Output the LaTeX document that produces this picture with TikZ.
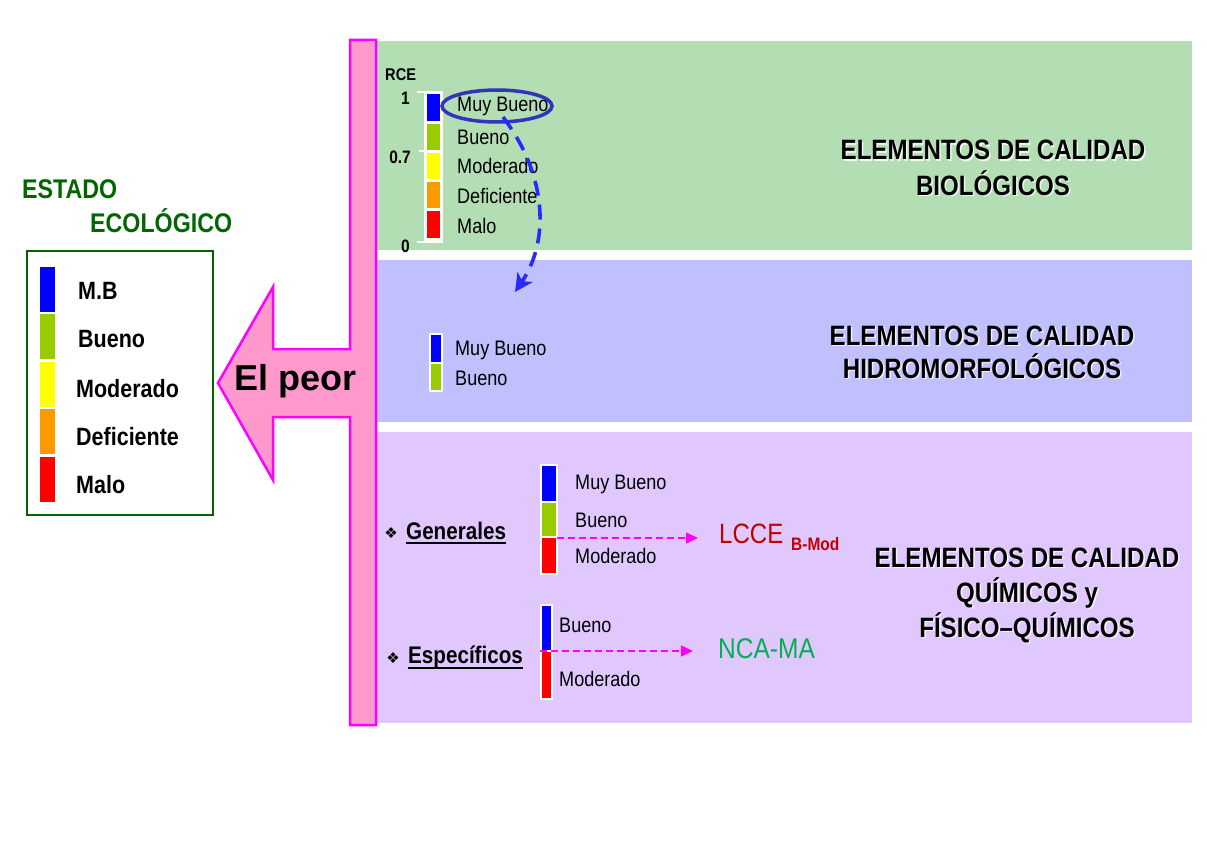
\documentclass[tikz,border=0pt]{standalone}
\usepackage{fontspec}
\setmainfont[FakeStretch=0.86]{Liberation Sans}
\newfontfamily\peorfont{Liberation Sans}
\newfontfamily\symfont{DejaVu Sans}
\usetikzlibrary{shapes.geometric,arrows.meta}
\definecolor{pgreen}{RGB}{179,222,180}
\definecolor{pblue}{RGB}{192,192,255}
\definecolor{plilac}{RGB}{224,200,255}
\definecolor{barpink}{RGB}{255,153,204}
\definecolor{magen}{RGB}{255,0,255}
\definecolor{dgreen}{RGB}{0,102,0}
\definecolor{cblue}{RGB}{0,0,255}
\definecolor{cgreen}{RGB}{153,204,0}
\definecolor{cyellow}{RGB}{255,255,0}
\definecolor{corange}{RGB}{255,153,0}
\definecolor{cred}{RGB}{255,0,0}
\definecolor{lccered}{RGB}{192,0,0}
\definecolor{ncagreen}{RGB}{0,176,80}
\definecolor{ellblue}{RGB}{51,51,190}
\definecolor{arrblue}{RGB}{40,40,255}
\tikzset{
  lbl/.style={anchor=base west, inner sep=0pt, font=\fontsize{21}{25}\selectfont},
  blbl/.style={anchor=base west, inner sep=0pt, font=\bfseries\fontsize{25}{30}\selectfont},
  num/.style={anchor=base east, inner sep=0pt, font=\bfseries\fontsize{18}{21}\selectfont},
  head/.style={anchor=base, inner sep=0pt, font=\bfseries\fontsize{28}{34}\selectfont},
  headshadow/.style={head, text=white, opacity=0.8},
  sub/.style={anchor=base west, inner sep=0pt, font=\bfseries\fontsize{24}{29}\selectfont},
  bullet/.style={inner sep=0pt, font=\symfont\fontsize{15}{17}\selectfont},
  magarrow/.style={draw=magen, line width=1.6pt, dash pattern=on 7pt off 4pt, -{Triangle[length=12pt,width=11pt]}},
}
\begin{document}
\begin{tikzpicture}[x=1pt,y=-1pt]
\useasboundingbox (0,0) rectangle (1207,856);
\fill[white] (0,0) rectangle (1207,856);
% panels
\fill[pgreen] (377,41) rectangle (1192,250);
\fill[pblue] (377,260) rectangle (1192,422);
\fill[plilac] (377,432) rectangle (1192,723);
% bar + arrow
\filldraw[fill=barpink, draw=magen, line width=2.5pt, line join=miter]
  (350,40) -- (376,40) -- (376,725) -- (350,725) -- (350,417) -- (273,417) -- (273,480)
  -- (218,383) -- (273,287) -- (273,349) -- (350,349) -- cycle;
\node[anchor=base west, inner sep=0pt, font=\peorfont\bfseries\fontsize{36}{40}\selectfont] (peor) at (234,390) {El peor};

% left box
\draw[dgreen, line width=2.5pt] (27,251) rectangle (213,515);
\node[anchor=base west, inner sep=0pt, text=dgreen, font=\bfseries\fontsize{27}{32}\selectfont] (estado) at (22,198) {ESTADO};
\node[anchor=base west, inner sep=0pt, text=dgreen, font=\bfseries\fontsize{27}{32}\selectfont] (ecologico) at (90,232) {ECOLÓGICO};
\fill[cblue] (40,267) rectangle (55,312);
\fill[cgreen] (40,314) rectangle (55,359);
\fill[cyellow] (40,362) rectangle (55,407);
\fill[corange] (40,409) rectangle (55,454);
\fill[cred] (40,457) rectangle (55,502);
\node[blbl] (lmb) at (78,299) {M.B};
\node[blbl] (lbu) at (78,347) {Bueno};
\node[blbl] (lmo) at (76,397) {Moderado};
\node[blbl] (lde) at (76,445) {Deficiente};
\node[blbl] (lma) at (76,493) {Malo};

% green panel scale
\node[anchor=base west, inner sep=0pt, font=\bfseries\fontsize{17}{20}\selectfont] (rce) at (385,81) {RCE};
\node[num] (n1) at (410,105) {1};
\node[num] (n07) at (411,164) {0.7};
\node[num] (n0) at (410,252) {0};
\fill[white] (424,91) rectangle (443,243);
\draw[white, line width=2.5pt] (417,92) -- (443,92) (419,151) -- (426,151) (417,242) -- (443,242);
\fill[cblue] (427,94) rectangle (440,121);
\fill[cgreen] (427,124) rectangle (440,150);
\fill[cyellow] (427,153) rectangle (440,179);
\fill[corange] (427,182) rectangle (440,208);
\fill[cred] (427,211) rectangle (440,238);
\node[lbl] (gmb) at (457,112) {Muy Bueno};
\node[lbl] (gbu) at (457,144) {Bueno};
\node[lbl] (gmo) at (457,173) {Moderado};
\node[lbl] (gde) at (457,203) {Deficiente};
\node[lbl] (gma) at (457,233) {Malo};
\node[ellipse, draw=ellblue, line width=3.5pt, minimum width=110pt, minimum height=32pt, inner sep=0pt] (ell) at (497,106) {};
\coordinate (bstart) at (503,117);
\coordinate (bend) at (515,292);
\draw[arrblue, line width=3.6pt, dash pattern=on 15pt off 9pt, -{Stealth[length=18pt,width=18pt,inset=5pt]}]
  (bstart) .. controls (547,175) and (550,240) .. (bend);
% headings
\node[headshadow] (h1s) at (994.5,161.5) {ELEMENTOS DE CALIDAD};
\node[headshadow] (h2s) at (994.5,196.5) {BIOLÓGICOS};
\node[head] (h1) at (993,160) {ELEMENTOS DE CALIDAD};
\node[head] (h2) at (993,195) {BIOLÓGICOS};

% blue panel
\fill[white] (429,333) rectangle (443,392);
\fill[cblue] (431,335) rectangle (441,362);
\fill[cgreen] (431,364) rectangle (441,390);
\node[lbl] (bmb) at (455,355) {Muy Bueno};
\node[lbl] (bbu) at (455,385) {Bueno};
\node[headshadow] (h3s) at (983.5,346.5) {ELEMENTOS DE CALIDAD};
\node[headshadow] (h4s) at (983.5,379.5) {HIDROMORFOLÓGICOS};
\node[head] (h3) at (982,345) {ELEMENTOS DE CALIDAD};
\node[head] (h4) at (982,378) {HIDROMORFOLÓGICOS};

% lilac panel
\node[bullet] (b1) at (391,533) {❖};
\node[sub] (gen) at (406,539) {Generales};
\draw[line width=1.5pt] ([yshift=-4pt]gen.base west) -- ([yshift=-4pt]gen.base east);
\node[bullet] (b2) at (393,658) {❖};
\node[sub] (esp) at (408,663) {Específicos};
\draw[line width=1.5pt] ([yshift=-5pt]esp.base west) -- ([yshift=-5pt]esp.base east);

\fill[white] (540,464) rectangle (558,575);
\fill[cblue] (542,466) rectangle (556,501);
\fill[cgreen] (542,503) rectangle (556,536);
\fill[cred] (542,538) rectangle (556,573);
\node[lbl] (lmb2) at (575,489) {Muy Bueno};
\node[lbl] (lbu2) at (575,527) {Bueno};
\node[lbl] (lmo2) at (575,563) {Moderado};

\fill[white] (540,604) rectangle (553,700);
\fill[cblue] (542,606) rectangle (551,650);
\fill[cred] (542,652) rectangle (551,698);
\node[lbl] (ebu) at (559,632) {Bueno};
\node[lbl] (emo) at (559,686) {Moderado};

\node[anchor=base west, inner sep=0pt, text=lccered, font=\fontsize{28}{32}\selectfont] (lcce) at (719,543) {LCCE};
\node[anchor=base west, inner sep=0pt, text=lccered, font=\bfseries\fontsize{18}{22}\selectfont] (bmod) at (791,550) {B-Mod};
\node[anchor=base west, inner sep=0pt, text=ncagreen, font=\fontsize{28.5}{32}\selectfont] (nca) at (718,658) {NCA-MA};

\coordinate (g0) at (557,538);
\coordinate (g1) at (698,538);
\coordinate (e0) at (540,651);
\coordinate (e1) at (693,651);
\draw[magarrow] (g0) -- (g1);
\draw[magarrow] (e0) -- (e1);

\node[headshadow] (h5s) at (1028.5,568.5) {ELEMENTOS DE CALIDAD};
\node[headshadow] (h6s) at (1028.5,603.5) {QUÍMICOS y};
\node[headshadow] (h7s) at (1028.5,638.5) {FÍSICO–QUÍMICOS};
\node[head] (h5) at (1027,567) {ELEMENTOS DE CALIDAD};
\node[head] (h6) at (1027,602) {QUÍMICOS y};
\node[head] (h7) at (1027,637) {FÍSICO–QUÍMICOS};
\end{tikzpicture}
\end{document}
